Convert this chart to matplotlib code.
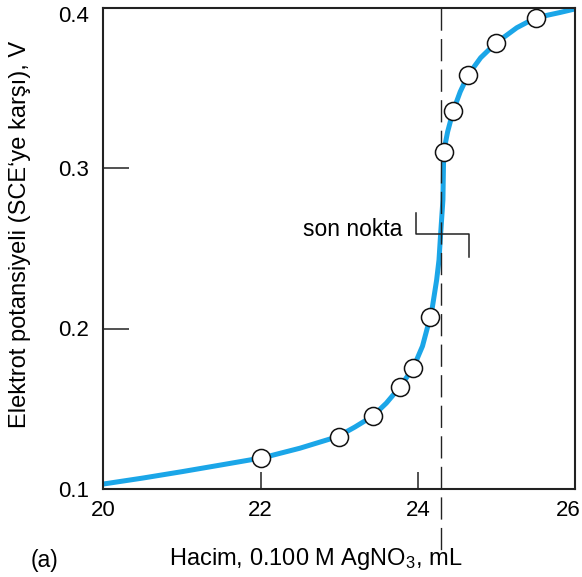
import matplotlib
matplotlib.use("Agg")
import matplotlib.pyplot as plt
from matplotlib.transforms import ScaledTranslation

plt.rcParams["font.family"] = ["Liberation Sans", "DejaVu Sans"]
plt.rcParams["mathtext.fontset"] = "custom"
plt.rcParams["mathtext.rm"] = "Liberation Sans"
plt.rcParams["mathtext.it"] = "Liberation Sans:italic"

# smooth titration curve, traced points (mL, V)
curve_vol = [20.0, 20.5, 21.0, 21.5, 22.03, 22.50, 22.98, 23.20, 23.43, 23.60,
             23.77, 23.94, 24.06, 24.16, 24.18, 24.24, 24.27, 24.29, 24.32, 24.33,
             24.38, 24.45, 24.54, 24.64, 24.80, 24.99, 25.26, 25.50, 25.81, 26.0]
curve_E = [0.1031, 0.1068, 0.1108, 0.1150, 0.1195, 0.1254, 0.1326, 0.1386, 0.1455, 0.1535,
           0.1634, 0.1752, 0.1890, 0.2074, 0.2115, 0.2302, 0.2427, 0.2583, 0.2801, 0.3102,
           0.3226, 0.3355, 0.3475, 0.3579, 0.3687, 0.3777, 0.3874, 0.3936, 0.3969, 0.3991]

# measured points
meas_vol = [22.0, 23.0, 23.43, 23.77, 23.94, 24.16, 24.33, 24.45, 24.64, 24.99, 25.5]
meas_E = [0.1195, 0.1326, 0.1455, 0.1634, 0.1752, 0.2074, 0.3102, 0.3355, 0.3579, 0.3777, 0.3936]

end_point = 24.30
x_ticks = [20, 22, 24, 26]
y_ticks = [0.1, 0.2, 0.3, 0.4]
y_tick_labels = ["0.1", "0.2", "0.3", "0.4"]

# bracket marking the end point
bracket_x = [23.977, 23.977, 24.65, 24.65]
bracket_y = [0.2718, 0.2587, 0.2587, 0.2447]

fig = plt.figure(figsize=(5.82, 5.77), dpi=100)
ax = fig.add_axes([103.3 / 582, 88 / 577, 471.7 / 582, 481.5 / 577])

ax.plot(curve_vol, curve_E, color="#1BA6E8", lw=3.6, solid_joinstyle="round",
        solid_capstyle="butt", zorder=2)
ax.plot(meas_vol, meas_E, "o", ms=13, mfc="white", mec="#111111", mew=1.1, zorder=4)

# end point dashed line, running down past the axis
ax.plot([end_point, end_point], [0.4, 0.062], color="#222222", lw=1.0,
        linestyle=(0, (16, 6)), clip_on=False, zorder=3)

ax.plot(bracket_x, bracket_y, color="#222222", lw=1.1, zorder=3)
ax.text(23.80, 0.2576, "son nokta", ha="right", va="baseline", fontsize=16.5)

ax.set_xlim(20, 26)
ax.set_ylim(0.1, 0.4)
ax.set_xticks(x_ticks)
ax.set_yticks(y_ticks, y_tick_labels)

for s in ax.spines.values():
    s.set_linewidth(1.5)
    s.set_color("#222222")

ax.tick_params(axis="x", direction="in", length=12, width=1.1, pad=8,
               labelsize=16, color="#222222")
ax.tick_params(axis="y", direction="in", length=19, width=1.1, pad=10,
               labelsize=16, color="#222222")

# keep the corner labels inside the canvas
top_lbl = ax.yaxis.get_major_ticks()[-1].label1
top_lbl.set_transform(top_lbl.get_transform() + ScaledTranslation(0, -6 / 100, fig.dpi_scale_trans))
right_lbl = ax.xaxis.get_major_ticks()[-1].label1
right_lbl.set_transform(right_lbl.get_transform() + ScaledTranslation(-7 / 100, 0, fig.dpi_scale_trans))

fig.text(316 / 582, 1 - 559.5 / 577, "Hacim, 0.100 M AgNO$_3$, mL",
         ha="center", va="center", fontsize=17)
fig.text(44 / 582, 1 - 560 / 577, "(a)", ha="center", va="center", fontsize=16.5)
fig.text(20.5 / 582, 1 - 234 / 577, "Elektrot potansiyeli (SCE\u2018ye karşı), V",
         ha="center", va="center", rotation=90, fontsize=17)

fig.savefig("out.png", dpi=100)
